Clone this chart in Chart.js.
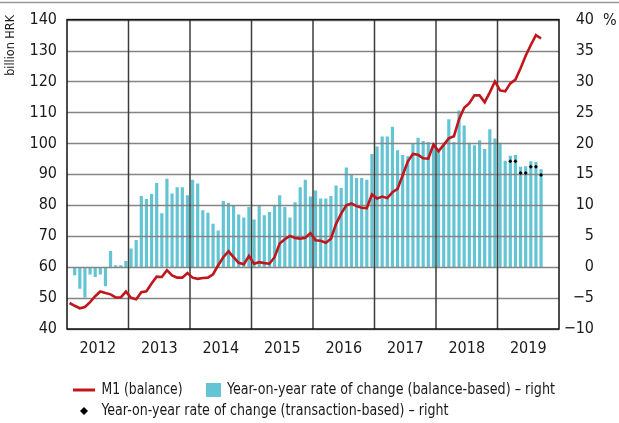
<!DOCTYPE html>
<html>
<head>
<meta charset="utf-8">
<script src="https://cdn.jsdelivr.net/npm/chart.js@4.4.1/dist/chart.umd.min.js"></script>
<style>
  html, body { margin: 0; padding: 0; background: #fff; }
  #wrap { position: relative; width: 619px; height: 423px; }
</style>
</head>
<body>
<div id="wrap"><canvas id="m1Chart" width="619" height="423"></canvas></div>
<script>
const years = ['2012', '2013', '2014', '2015', '2016', '2017', '2018', '2019'];
const months = [];
years.forEach(y => {
  for (let m = 1; m <= 12; m++) months.push(y + '-' + String(m).padStart(2, '0'));
});

// M1, end of month, billion HRK (Jan 2012 - Sep 2019)
const m1Balance = [
  48.4, 47.5, 46.7, 47.1, 48.7, 50.6, 52.1, 51.6, 51.2, 50.2, 50.2, 52.1,
  50.1, 49.6, 51.9, 52.2, 54.7, 56.9, 56.8, 59.0, 57.3, 56.6, 56.6, 58.1,
  56.6, 56.2, 56.5, 56.6, 57.7, 60.6, 63.2, 65.1, 63.2, 61.4, 60.9, 63.6,
  61.1, 61.6, 61.3, 61.1, 63.2, 67.6, 69.0, 70.1, 69.4, 69.2, 69.5, 71.0,
  68.7, 68.5, 67.9, 69.2, 74.0, 77.3, 80.0, 80.6, 79.7, 79.2, 79.1, 83.5,
  82.2, 82.8, 82.3, 84.2, 85.3, 89.7, 94.1, 96.6, 96.3, 95.2, 95.1, 99.6,
  97.5, 99.5, 101.6, 102.3, 107.8, 111.5, 113.0, 115.5, 115.5, 113.3, 116.5, 120.0,
  117.1, 116.8, 119.4, 120.6, 124.3, 128.3, 131.8, 135.0, 133.9
];

// year-on-year change, balance-based, %
const yoyBalance = [
  null, -1.3, -3.5, -4.9, -1.2, -1.6, -1.2, -3.1, 2.6, 0.3, 0.3, 1.0,
  3.0, 4.4, 11.5, 11.0, 11.8, 13.6, 8.7, 14.3, 11.9, 12.9, 12.9, 11.6,
  14.1, 13.5, 9.2, 8.8, 7.0, 5.9, 10.7, 10.4, 10.0, 8.5, 8.0, 9.7,
  7.7, 10.0, 8.4, 8.9, 10.0, 11.6, 9.7, 8.0, 10.5, 12.9, 14.1, 11.4,
  12.4, 11.1, 11.1, 11.5, 13.2, 12.8, 16.1, 15.0, 14.4, 14.4, 14.1, 18.3,
  19.5, 21.1, 21.1, 22.7, 18.9, 18.1, 17.9, 20.0, 20.9, 20.4, 20.2, 19.8,
  19.0, 20.1, 23.9, 20.2, 25.3, 22.9, 20.1, 19.7, 20.5, 19.1, 22.3, 20.8,
  20.1, 17.2, 18.0, 18.1, 16.2, 16.3, 17.1, 17.0, 15.8
];

// year-on-year change, transaction-based, % (from Mar 2019)
const yoyTransaction = Array(86).fill(null).concat([17.1, 17.1, 15.2, 15.2, 16.2, 16.2, 14.9]);

const FONT = '"Liberation Sans Narrow", "Arial Narrow", "DejaVu Sans Condensed", sans-serif';
const TEXT = '#1a1a1a';
const RED = '#c1161c';
const CYAN = '#63c4d3';

const legendLabels = {
  m1: 'M1 (balance)',
  bal: 'Year-on-year rate of change (balance-based) \u2013 right',
  trn: 'Year-on-year rate of change (transaction-based) \u2013 right'
};

// draws text squeezed horizontally to a given width
function fitText(ctx, text, x, y, width) {
  const w = ctx.measureText(text).width;
  ctx.save();
  ctx.translate(x, y);
  ctx.scale(Math.min(1, width / w), 1);
  ctx.fillText(text, 0, 0);
  ctx.restore();
}

// horizontal and year grid lines go over the bars but under the line
const gridOverBars = {
  id: 'gridOverBars',
  afterDatasetDraw(chart, args) {
    if (chart.data.datasets[args.index].type !== 'bar') return;
    const { ctx, chartArea: a, scales } = chart;
    ctx.save();
    ctx.lineWidth = 1.3;
    ctx.strokeStyle = '#858585';
    scales.y.ticks.forEach(t => {
      const py = Math.round(scales.y.getPixelForValue(t.value)) + 0.5;
      ctx.beginPath(); ctx.moveTo(a.left, py); ctx.lineTo(a.right, py); ctx.stroke();
    });
    ctx.strokeStyle = '#3c3c3c';
    ctx.lineWidth = 1.5;
    for (let k = 1; k < years.length; k++) {
      const i = k * 12;
      const px = (scales.x.getPixelForValue(i - 1) + scales.x.getPixelForValue(i)) / 2;
      ctx.beginPath(); ctx.moveTo(px, a.top); ctx.lineTo(px, a.bottom); ctx.stroke();
    }
    ctx.restore();
  }
};

const decorations = {
  id: 'decorations',
  afterDraw(chart) {
    const { ctx, chartArea: a } = chart;
    ctx.save();
    // frame
    ctx.strokeStyle = '#111';
    ctx.lineWidth = 1.5;
    ctx.strokeRect(a.left, a.top, a.right - a.left, a.bottom - a.top);
    // rule at the top of the page
    ctx.strokeStyle = '#999';
    ctx.lineWidth = 1.5;
    ctx.beginPath(); ctx.moveTo(0, 2.5); ctx.lineTo(619, 2.5); ctx.stroke();

    ctx.fillStyle = TEXT;
    // axis units
    ctx.font = '16px ' + FONT;
    ctx.textAlign = 'left';
    ctx.textBaseline = 'middle';
    ctx.fillText('%', 603, a.top + 1);
    ctx.save();
    ctx.translate(11, 15);
    ctx.rotate(-Math.PI / 2);
    ctx.font = '12.5px ' + FONT;
    ctx.textAlign = 'right';
    ctx.fillText('billion HRK', 0, 0);
    ctx.restore();

    // legend
    ctx.font = '15.5px ' + FONT;
    ctx.textAlign = 'left';
    ctx.textBaseline = 'middle';
    const r1 = 390, r2 = 411;
    ctx.strokeStyle = RED;
    ctx.lineWidth = 3;
    ctx.beginPath(); ctx.moveTo(73, r1); ctx.lineTo(95, r1); ctx.stroke();
    fitText(ctx, legendLabels.m1, 101.5, r1, 81);
    ctx.fillStyle = CYAN;
    ctx.fillRect(206, r1 - 7, 15, 14);
    ctx.fillStyle = TEXT;
    fitText(ctx, legendLabels.bal, 227, r1, 328);
    ctx.fillStyle = '#000';
    ctx.beginPath();
    ctx.moveTo(84, r2 - 4); ctx.lineTo(88, r2); ctx.lineTo(84, r2 + 4); ctx.lineTo(80, r2);
    ctx.closePath(); ctx.fill();
    ctx.fillStyle = TEXT;
    fitText(ctx, legendLabels.trn, 101.5, r2, 347);
    ctx.restore();
  }
};

const tickFont = { family: FONT, size: 16 };

new Chart(document.getElementById('m1Chart'), {
  type: 'bar',
  data: {
    labels: months,
    datasets: [
      {
        type: 'line', label: legendLabels.m1, data: m1Balance, yAxisID: 'y',
        borderColor: RED, borderWidth: 2.6, pointRadius: 0, tension: 0, order: 0
      },
      {
        type: 'line', label: legendLabels.trn, data: yoyTransaction, yAxisID: 'y1',
        showLine: false, pointStyle: 'rectRot', pointRadius: 2, borderWidth: 0,
        backgroundColor: '#000', order: 1
      },
      {
        type: 'bar', label: legendLabels.bal, data: yoyBalance, yAxisID: 'y1',
        backgroundColor: CYAN, barPercentage: 0.62, categoryPercentage: 1, order: 2
      }
    ]
  },
  options: {
    responsive: false,
    animation: false,
    layout: { padding: { top: 18, right: 25, left: 0, bottom: 0 } },
    plugins: { legend: { display: false }, tooltip: { enabled: false } },
    scales: {
      x: {
        offset: true,
        grid: { display: false, drawTicks: false },
        border: { display: false },
        ticks: {
          autoSkip: false, maxRotation: 0, minRotation: 0, padding: 10,
          labelOffset: -2.56, color: TEXT, font: tickFont,
          callback: (v, i) => (i % 12 === 6 ? years[Math.floor(i / 12)] : '')
        },
        afterFit: s => { s.height = 94; }
      },
      y: {
        position: 'left', min: 40, max: 140,
        grid: { display: false, drawTicks: false },
        border: { display: false },
        ticks: { stepSize: 10, padding: 10, color: TEXT, font: tickFont },
        afterFit: s => { s.width = 67; }
      },
      y1: {
        position: 'right', min: -10, max: 40,
        grid: { display: false, drawTicks: false },
        border: { display: false },
        ticks: {
          stepSize: 5, crossAlign: 'far', color: TEXT, font: tickFont,
          callback: v => (v < 0 ? '\u2212' + Math.abs(v) : String(v))
        },
        afterFit: s => { s.width = 35; }
      }
    }
  },
  plugins: [gridOverBars, decorations]
});
</script>
</body>
</html>
